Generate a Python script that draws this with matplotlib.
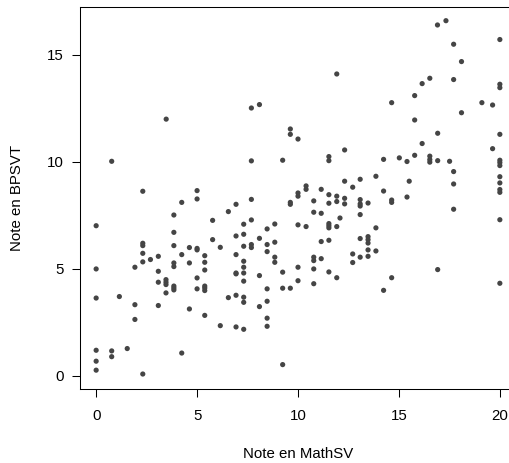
import matplotlib
matplotlib.use("Agg")
import matplotlib.pyplot as plt

plt.rcParams['font.family'] = ['Liberation Sans', 'DejaVu Sans']

math_sv = [
    3.47, 0.77, 2.31, 5.0, 5.0, 4.24, 3.85, 0.0, 5.77, 3.85,
    2.31, 2.31, 3.85, 4.62, 5.0, 5.0, 5.77, 6.15, 2.31, 4.24,
    3.08, 2.69, 2.31, 3.85, 3.85, 4.62, 5.38, 5.38, 5.38, 0.0,
    1.92, 3.08, 5.0, 3.46, 3.46, 3.46, 3.08, 3.85, 3.85, 3.85,
    5.38, 5.38, 5.38, 5.0, 3.46, 0.0, 1.15, 1.92, 3.08, 4.62,
    5.38, 1.92, 6.15, 0.0, 0.77, 0.77, 1.54, 4.24, 0.0, 0.0,
    2.31,
    11.92, 7.69, 8.09, 9.62, 9.62, 10.0, 12.31, 7.69, 9.24, 11.53,
    11.53, 12.31, 10.4, 10.4, 10.0, 10.0, 11.15, 11.53, 11.92, 12.31,
    12.31, 7.69, 6.93, 9.62, 9.62, 10.78, 11.53, 11.92, 6.55, 10.78,
    11.15, 7.69, 7.31, 8.85, 8.47, 10.0, 10.4, 11.53, 11.53, 11.53,
    11.92, 12.08, 6.93, 7.31, 8.09, 8.47, 8.85, 7.31, 7.69, 7.69,
    8.47, 6.93, 8.85, 8.85, 7.31, 7.31, 6.93, 6.93, 7.31, 8.09,
    9.24, 10.0, 10.78, 10.78, 11.15, 10.78, 11.53, 11.92, 7.31, 10.0,
    10.78, 8.47, 9.24, 9.62, 6.55, 6.93, 7.31, 7.31, 8.47, 8.09,
    8.47, 6.93, 7.31, 8.47, 9.24, 11.15, 11.53,
    16.91, 17.33, 17.71, 20.0, 18.1, 16.15, 16.53, 17.71, 20.0, 20.0,
    15.78, 14.64, 19.11, 19.64, 18.1, 15.78, 16.92, 20.0, 16.15, 19.64,
    14.24, 15.02, 15.4, 15.78, 16.53, 16.53, 16.53, 16.92, 17.51, 17.71,
    17.71, 20.0, 20.0, 20.0, 20.0, 20.0, 20.0, 20.0, 12.71, 13.08,
    13.86, 14.24, 15.51, 15.4, 14.64, 14.64, 13.08, 13.08, 13.08, 13.47,
    17.71, 13.08, 20.0, 13.86, 13.08, 13.47, 13.47, 13.47, 13.47, 13.86,
    12.71, 13.08, 13.47, 12.71, 16.92, 14.64, 14.24, 20.0,
]

bpsvt = [
    12.0, 10.03, 8.63, 8.66, 8.27, 8.11, 7.52, 7.02, 7.27, 6.71,
    6.2, 6.09, 6.09, 6.0, 5.96, 5.89, 6.37, 6.01, 5.73, 5.67,
    5.59, 5.44, 5.33, 5.28, 5.11, 5.28, 5.62, 5.31, 4.95, 5.0,
    5.08, 4.89, 4.58, 4.5, 4.38, 4.27, 4.38, 4.2, 4.11, 4.02,
    4.2, 4.11, 3.99, 4.07, 3.88, 3.64, 3.71, 3.33, 3.29, 3.13,
    2.83, 2.64, 2.35, 1.2, 1.17, 0.9, 1.28, 1.07, 0.69, 0.27,
    0.09,
    14.11, 12.52, 12.68, 11.54, 11.29, 11.07, 10.56, 10.05, 10.08, 10.25,
    10.06, 9.1, 8.88, 8.72, 8.55, 8.4, 8.72, 8.47, 8.4, 8.3,
    8.04, 8.25, 8.02, 8.11, 8.02, 8.18, 8.07, 8.15, 7.68, 7.65,
    7.6, 7.29, 7.09, 7.1, 6.87, 7.06, 6.98, 7.12, 7.02, 6.92,
    6.98, 7.38, 6.54, 6.62, 6.43, 6.14, 6.25, 6.06, 6.14, 6.0,
    5.81, 5.67, 5.55, 5.31, 5.36, 5.08, 4.81, 4.77, 4.81, 4.69,
    4.85, 5.08, 5.55, 5.39, 5.48, 5.0, 4.86, 4.59, 4.43, 4.45,
    4.31, 4.07, 4.1, 4.1, 3.66, 3.77, 3.68, 3.44, 3.49, 3.24,
    2.7, 2.29, 2.18, 2.32, 0.53, 6.28, 6.34,
    16.4, 16.6, 15.5, 15.72, 14.69, 13.66, 13.91, 13.85, 13.63, 13.47,
    13.1, 12.77, 12.77, 12.66, 12.3, 11.96, 11.34, 11.29, 10.86, 10.62,
    10.12, 10.19, 10.02, 10.31, 10.27, 10.11, 9.99, 10.06, 10.03, 9.55,
    8.97, 10.08, 9.97, 9.83, 9.31, 9.02, 8.71, 8.58, 8.82, 9.19,
    9.33, 8.64, 9.1, 8.36, 8.22, 8.11, 8.24, 8.04, 7.94, 8.08,
    7.79, 7.54, 7.3, 6.92, 6.42, 6.51, 6.37, 6.21, 5.89, 5.84,
    5.7, 5.55, 5.59, 5.3, 4.97, 4.59, 4.0, 4.33,
]

x_ticks = [0, 5, 10, 15, 20]
y_ticks = [0, 5, 10, 15]
x_label = 'Note en MathSV'
y_label = 'Note en BPSVT'

W, H = 510, 463
FS = 10.8
fig = plt.figure(figsize=(W / 100, H / 100), dpi=100)
left, right, bottom, top = 80, 516, 389, 7
ax = fig.add_axes([left / W, (H - bottom) / H, (right - left) / W, (bottom - top) / H])

ax.scatter(math_sv, bpsvt, s=14, color='#454545', edgecolors='none', zorder=3)

ax.set_xlim(-0.8, 20.8)
ax.set_ylim(-0.61, 17.24)
ax.set_xticks(x_ticks)
ax.set_yticks(y_ticks)
ax.tick_params(axis='both', direction='out', length=6, width=0.75, colors='black', labelsize=FS)
ax.tick_params(axis='x', pad=8.5)
ax.tick_params(axis='y', pad=5.5)
for s in ax.spines.values():
    s.set_linewidth(0.75)
    s.set_color('black')

fig.text(298 / W, (H - 457.5) / H, x_label, fontsize=FS, ha='center', va='baseline')
fig.text(21.5 / W, (H - 198) / H, y_label, fontsize=FS, rotation=90,
         rotation_mode='anchor', ha='center', va='baseline')

fig.savefig('out.png', dpi=100)
